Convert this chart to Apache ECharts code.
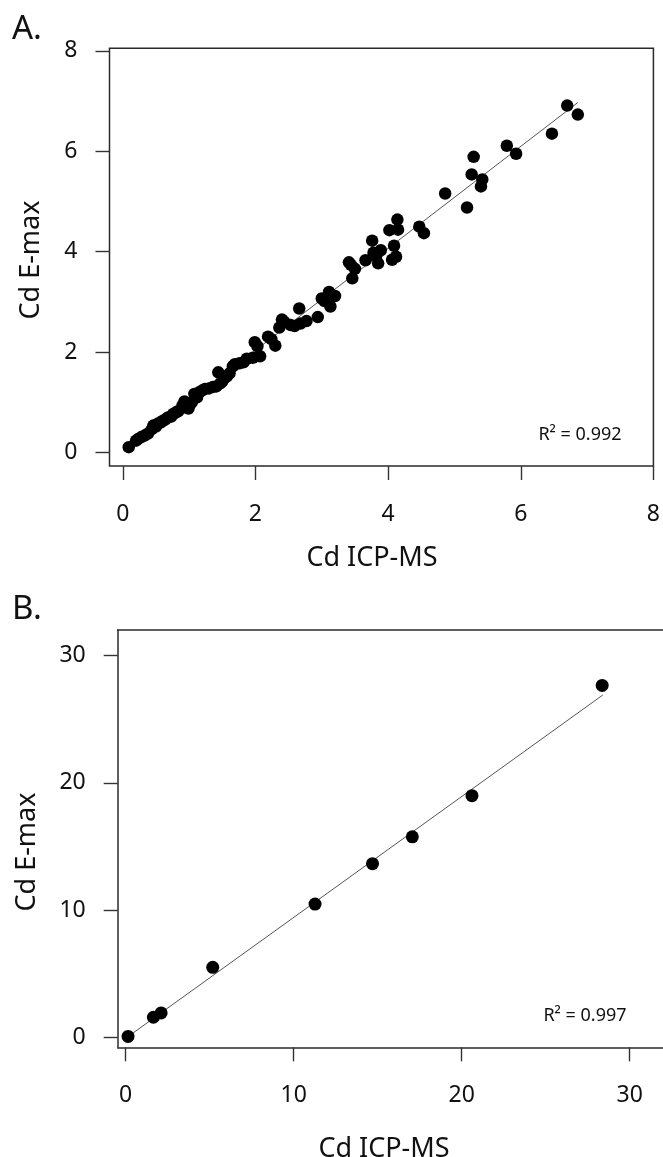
<!DOCTYPE html>
<html>
<head>
<meta charset="utf-8">
<script src="https://cdn.jsdelivr.net/npm/echarts@6/dist/echarts.min.js"></script>
<style>
html,body{margin:0;padding:0;background:#fff;}
#chart{width:663px;height:1157px;}
</style>
</head>
<body>
<div id="chart"></div>
<script>
// ---- Panel A data (Cd ICP-MS vs Cd E-max) ----
const panelA_icpms = [0.09,0.20,0.23,0.28,0.33,0.38,0.44,0.46,0.50,0.53,0.57,0.60,0.64,0.68,0.73,0.76,0.80,0.84,0.90,0.93,0.96,0.99,1.01,1.04,
  1.08,1.12,1.16,1.20,1.24,1.30,1.36,1.41,1.44,1.47,1.50,1.53,1.57,1.61,1.66,1.69,1.76,1.82,1.87,1.96,1.99,2.03,2.07,
  2.19,2.24,2.30,2.36,2.40,2.44,2.53,2.59,2.66,2.68,2.77,2.94,
  3.00,3.04,3.11,3.13,3.20,3.41,3.44,3.46,3.50,3.66,3.76,3.78,3.82,3.85,3.89,
  4.02,4.06,4.09,4.12,4.14,4.15,4.47,4.54,4.86,5.19,5.26,5.29,5.40,5.42,5.79,5.93,6.47,6.70,6.86];
const panelA_emax = [0.11,0.24,0.27,0.31,0.34,0.38,0.47,0.54,0.52,0.58,0.60,0.63,0.66,0.70,0.72,0.77,0.80,0.83,0.94,1.02,0.90,0.88,0.95,1.00,
  1.17,1.10,1.21,1.24,1.27,1.28,1.31,1.32,1.60,1.38,1.42,1.48,1.52,1.58,1.72,1.76,1.78,1.80,1.87,1.89,2.20,2.12,1.92,
  2.31,2.26,2.13,2.49,2.65,2.60,2.54,2.52,2.87,2.57,2.62,2.70,
  3.07,3.02,3.20,2.91,3.12,3.79,3.74,3.47,3.66,3.83,4.22,3.98,3.91,3.77,4.03,
  4.43,3.84,4.12,3.90,4.64,4.44,4.50,4.37,5.16,4.88,5.54,5.89,5.30,5.44,6.11,5.95,6.35,6.91,6.73];
const panelA_fitX = [0.09, 6.86];
const panelA_fitY = [0.10, 6.97];
const panelA_ticks = [0, 2, 4, 6, 8];
const panelA_r2 = 'R\u00B2 = 0.992';

// ---- Panel B data ----
const panelB_icpms = [0.14, 1.65, 2.11, 5.18, 11.27, 14.69, 17.06, 20.61, 28.36];
const panelB_emax  = [0.10, 1.61, 1.95, 5.53, 10.49, 13.66, 15.77, 19.00, 27.65];
const panelB_fitX = [0.14, 28.40];
const panelB_fitY = [0.09, 26.90];
const panelB_ticks = [0, 10, 20, 30];
const panelB_r2 = 'R\u00B2 = 0.997';

const FONT = 'Noto Sans';
const INK = '#111';
const FRAME = {color: '#2a2a2a', width: 1.5};
const zip = (a, b) => a.map((v, i) => [v, b[i]]);

function xAxisCfg(gi, min, max, ticks, showLine) {
  return {
    type: 'value', gridIndex: gi, min: min, max: max, position: 'bottom',
    axisLine: {show: !!showLine, onZero: false, lineStyle: FRAME},
    splitLine: {show: false},
    axisTick: {show: true, inside: false, length: 14, customValues: ticks,
      lineStyle: {color: '#333', width: 1.4}},
    axisLabel: {show: true, customValues: ticks, margin: 48.5, verticalAlign: 'middle',
      fontFamily: FONT, fontSize: 23, color: INK, showMinLabel: true, showMaxLabel: true}
  };
}
function yAxisCfg(gi, min, max, ticks, showLine) {
  return {
    type: 'value', gridIndex: gi, min: min, max: max, position: 'left',
    axisLine: {show: !!showLine, onZero: false, lineStyle: FRAME},
    splitLine: {show: false},
    axisTick: {show: true, inside: false, length: 14, customValues: ticks,
      lineStyle: {color: '#333', width: 1.4}},
    axisLabel: {show: true, customValues: ticks, margin: 32,
      fontFamily: FONT, fontSize: 23, color: INK, showMinLabel: true, showMaxLabel: true}
  };
}
function txt(x, y, s, size, align, rot) {
  return {type: 'text', x: x, y: y, rotation: rot || 0,
    style: {text: s, fontFamily: FONT, fontSize: size, fill: INK,
      align: align || 'center', verticalAlign: 'middle'}};
}

const chart = echarts.init(document.getElementById('chart'), null, {renderer: 'canvas'});
chart.setOption({
  animation: false,
  backgroundColor: '#fff',
  grid: [
    {left: 109.5, top: 48.3, width: 546.5, height: 417.7, show: true,
     borderColor: '#2a2a2a', borderWidth: 1.5, backgroundColor: 'transparent', containLabel: false},
    {left: 117.7, top: 630, right: 0, height: 417.3, show: false, containLabel: false}
  ],
  xAxis: [
    xAxisCfg(0, -0.2, 8.0, panelA_ticks, false),
    xAxisCfg(1, -0.476, 31.98, panelB_ticks, true),
    {type: 'value', gridIndex: 1, min: -0.476, max: 31.98, position: 'top',
     axisLine: {show: true, onZero: false, lineStyle: FRAME},
     axisTick: {show: false}, axisLabel: {show: false}, splitLine: {show: false}}
  ],
  yAxis: [
    yAxisCfg(0, -0.265, 8.05, panelA_ticks, false),
    yAxisCfg(1, -0.75, 32, panelB_ticks, true)
  ],
  series: [
    {type: 'line', xAxisIndex: 0, yAxisIndex: 0, data: zip(panelA_fitX, panelA_fitY),
     showSymbol: false, lineStyle: {color: '#555', width: 1}, z: 1, silent: true},
    {type: 'scatter', xAxisIndex: 0, yAxisIndex: 0, data: zip(panelA_icpms, panelA_emax),
     symbol: 'circle', symbolSize: 12.5, itemStyle: {color: '#000', opacity: 1}, z: 2},
    {type: 'line', xAxisIndex: 1, yAxisIndex: 1, data: zip(panelB_fitX, panelB_fitY),
     showSymbol: false, lineStyle: {color: '#555', width: 1}, z: 1, silent: true},
    {type: 'scatter', xAxisIndex: 1, yAxisIndex: 1, data: zip(panelB_icpms, panelB_emax),
     symbol: 'circle', symbolSize: 13, itemStyle: {color: '#000', opacity: 1}, z: 2}
  ],
  graphic: [
    txt(12, 30, 'A.', 33, 'left'),
    txt(12, 610, 'B.', 33, 'left'),
    txt(372, 558, 'Cd ICP-MS', 27),
    txt(384, 1149, 'Cd ICP-MS', 27),
    txt(31, 260, 'Cd E-max', 27, 'center', Math.PI / 2),
    txt(27, 852, 'Cd E-max', 27, 'center', Math.PI / 2),
    txt(580, 435, panelA_r2, 18),
    txt(585, 1016, panelB_r2, 18)
  ]
});
</script>
</body>
</html>
